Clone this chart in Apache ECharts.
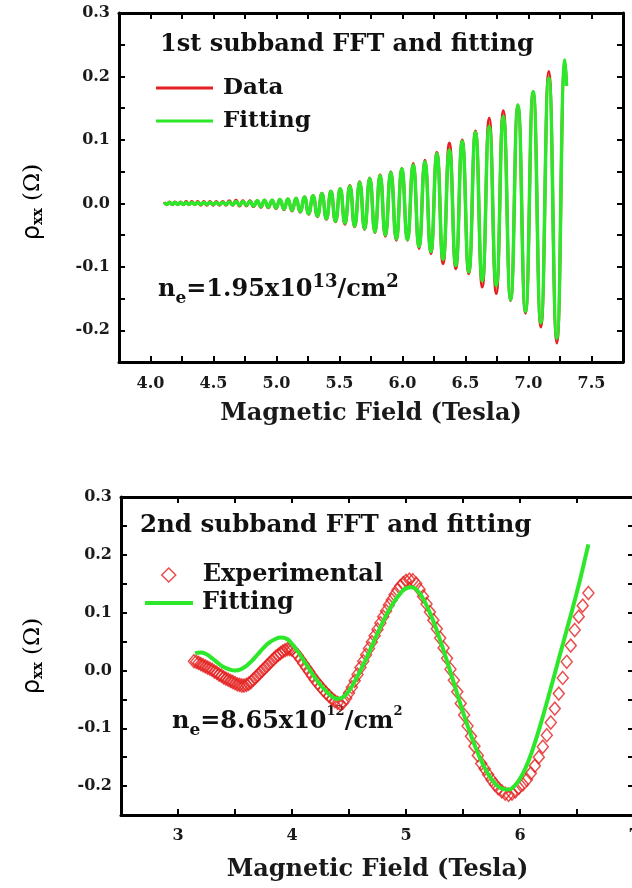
<!DOCTYPE html>
<html>
<head>
<meta charset="utf-8">
<title>rho_xx subband FFT and fitting</title>
<script src="https://cdn.jsdelivr.net/npm/echarts@6/dist/echarts.min.js"></script>
<style>html,body{margin:0;padding:0;background:#fff}#main{width:632px;height:888px}</style>
</head>
<body>
<div id="main"></div>
<script type="text/javascript">
// ---- 1st subband: extrema of the oscillation ----
var topField = [4.109, 4.130, 4.151, 4.172, 4.194, 4.216, 4.238, 4.260, 4.283, 4.305,
  4.328, 4.352, 4.375, 4.399, 4.423, 4.447, 4.472, 4.497, 4.522, 4.547,
  4.573, 4.599, 4.625, 4.652, 4.679, 4.706, 4.733, 4.761, 4.789, 4.818,
  4.847, 4.876, 4.905, 4.935, 4.965, 4.996, 5.027, 5.059, 5.090, 5.123,
  5.155, 5.188, 5.222, 5.255, 5.290, 5.325, 5.360, 5.396, 5.432, 5.468,
  5.506, 5.543, 5.582, 5.620, 5.660, 5.699, 5.740, 5.781, 5.822, 5.864,
  5.907, 5.951, 5.995, 6.039, 6.085, 6.131, 6.178, 6.225, 6.273, 6.322,
  6.372, 6.423, 6.474, 6.526, 6.579, 6.633, 6.688, 6.744, 6.800, 6.858,
  6.916, 6.976, 7.037, 7.098, 7.161, 7.225, 7.290, 7.302];
var topData = [0.002, -0.002, 0.002, -0.002, 0.002, -0.002, 0.002, -0.002, 0.003, -0.002,
  0.003, -0.002, 0.003, -0.003, 0.003, -0.003, 0.003, -0.003, 0.003, -0.003,
  0.003, -0.003, 0.004, -0.003, 0.005, -0.004, 0.004, -0.004, 0.004, -0.005,
  0.004, -0.006, 0.005, -0.007, 0.005, -0.008, 0.006, -0.010, 0.007, -0.012,
  0.008, -0.014, 0.010, -0.017, 0.012, -0.021, 0.016, -0.025, 0.019, -0.029,
  0.023, -0.033, 0.028, -0.037, 0.034, -0.041, 0.040, -0.046, 0.045, -0.052,
  0.050, -0.058, 0.055, -0.058, 0.063, -0.071, 0.068, -0.079, 0.080, -0.095,
  0.095, -0.103, 0.100, -0.111, 0.114, -0.132, 0.134, -0.142, 0.146, -0.153,
  0.155, -0.173, 0.176, -0.195, 0.208, -0.220, 0.224, 0.185];
var topFit = [0.0015, -0.0015, 0.0015, -0.0015, 0.0015, -0.0015, 0.0015, -0.0015, 0.0015, -0.0015,
  0.0015, -0.0015, 0.0015, -0.0015, 0.0015, -0.0015, 0.0015, -0.0015, 0.0015, -0.0015,
  0.0015, -0.0015, 0.002, -0.002, 0.003, -0.003, 0.003, -0.003, 0.003, -0.004,
  0.004, -0.005, 0.005, -0.006, 0.005, -0.007, 0.006, -0.009, 0.007, -0.011,
  0.008, -0.013, 0.010, -0.016, 0.012, -0.020, 0.015, -0.024, 0.019, -0.028,
  0.023, -0.031, 0.027, -0.036, 0.033, -0.040, 0.039, -0.045, 0.044, -0.050,
  0.049, -0.056, 0.054, -0.057, 0.060, -0.068, 0.065, -0.076, 0.078, -0.088,
  0.084, -0.098, 0.098, -0.108, 0.112, -0.122, 0.121, -0.130, 0.137, -0.152,
  0.155, -0.170, 0.176, -0.188, 0.197, -0.212, 0.226, 0.185];

// ---- 2nd subband ----
var expField = [3.14, 3.16, 3.18, 3.20, 3.22, 3.24, 3.26, 3.28, 3.30, 3.32,
  3.34, 3.36, 3.38, 3.40, 3.42, 3.44, 3.46, 3.48, 3.50, 3.52,
  3.54, 3.56, 3.58, 3.60, 3.62, 3.64, 3.66, 3.68, 3.70, 3.72,
  3.74, 3.76, 3.78, 3.80, 3.82, 3.84, 3.86, 3.88, 3.90, 3.92,
  3.94, 3.96, 3.98, 4.00,
  4.025, 4.05, 4.075, 4.10, 4.125, 4.15, 4.175, 4.20, 4.225, 4.25,
  4.275, 4.30, 4.325, 4.35, 4.375, 4.40, 4.425, 4.45, 4.475, 4.50,
  4.525, 4.55, 4.575, 4.60, 4.625, 4.65, 4.675, 4.70, 4.725, 4.75,
  4.775, 4.80, 4.825, 4.85, 4.875, 4.90, 4.925, 4.95, 4.975, 5.00,
  5.03, 5.06, 5.09, 5.12, 5.15, 5.18, 5.21, 5.24, 5.27, 5.30,
  5.33, 5.36, 5.39, 5.42, 5.45, 5.48, 5.51, 5.54, 5.57, 5.60,
  5.63, 5.66, 5.69, 5.72, 5.75, 5.78, 5.81, 5.84, 5.87, 5.90,
  5.93, 5.96, 5.99,
  6.025, 6.06, 6.095, 6.13, 6.165, 6.20, 6.235, 6.27, 6.305, 6.34,
  6.375, 6.41, 6.445, 6.48, 6.515, 6.55, 6.60];
var expRho = [0.016, 0.015, 0.013, 0.011, 0.009, 0.007, 0.005, 0.003, 0.001, -0.002,
  -0.004, -0.007, -0.009, -0.012, -0.014, -0.016, -0.018, -0.020, -0.022, -0.024,
  -0.025, -0.026, -0.026, -0.025, -0.023, -0.020, -0.016, -0.012, -0.008, -0.004,
  0.000, 0.004, 0.008, 0.012, 0.016, 0.020, 0.024, 0.027, 0.030, 0.033,
  0.035, 0.037, 0.037, 0.036,
  0.032, 0.026, 0.019, 0.012, 0.005, -0.002, -0.009, -0.016, -0.022, -0.028,
  -0.034, -0.039, -0.044, -0.049, -0.053, -0.056, -0.058, -0.055, -0.048, -0.039,
  -0.029, -0.018, -0.007, 0.005, 0.016, 0.027, 0.038, 0.049, 0.060, 0.071,
  0.082, 0.093, 0.103, 0.113, 0.122, 0.131, 0.139, 0.146, 0.151, 0.155,
  0.157, 0.156, 0.150, 0.140, 0.128, 0.115, 0.101, 0.087, 0.072, 0.056,
  0.039, 0.021, 0.002, -0.017, -0.037, -0.057, -0.077, -0.096, -0.114, -0.131,
  -0.147, -0.161, -0.170, -0.180, -0.189, -0.197, -0.204, -0.209, -0.213, -0.215,
  -0.213, -0.209, -0.203,
  -0.197, -0.189, -0.178, -0.165, -0.150, -0.132, -0.112, -0.090, -0.066, -0.040,
  -0.013, 0.015, 0.043, 0.070, 0.093, 0.112, 0.134];
var fitField = [3.15, 3.20, 3.25, 3.30, 3.35, 3.40, 3.45, 3.50, 3.55, 3.60,
  3.65, 3.70, 3.75, 3.80, 3.85, 3.90, 3.95, 4.00, 4.05, 4.10,
  4.15, 4.20, 4.25, 4.30, 4.35, 4.40, 4.45, 4.50, 4.55, 4.60,
  4.65, 4.70, 4.75, 4.80, 4.85, 4.90, 4.95, 5.00, 5.05, 5.10,
  5.15, 5.20, 5.25, 5.30, 5.35, 5.40, 5.45, 5.50, 5.55, 5.60,
  5.65, 5.70, 5.75, 5.80, 5.85, 5.90, 5.95, 6.00, 6.05, 6.10,
  6.15, 6.20, 6.25, 6.30, 6.35, 6.40, 6.45, 6.50, 6.55, 6.60];
var fitRho = [0.030, 0.031, 0.028, 0.021, 0.013, 0.006, 0.002, 0.000, 0.002, 0.008,
  0.017, 0.028, 0.039, 0.048, 0.054, 0.057, 0.055, 0.046, 0.033, 0.018,
  0.003, -0.012, -0.025, -0.036, -0.045, -0.049, -0.046, -0.035, -0.019, 0.000,
  0.020, 0.042, 0.064, 0.085, 0.104, 0.120, 0.133, 0.142, 0.144, 0.138,
  0.124, 0.104, 0.080, 0.052, 0.022, -0.009, -0.041, -0.072, -0.101, -0.128,
  -0.152, -0.172, -0.188, -0.199, -0.205, -0.206, -0.200, -0.187, -0.168, -0.143,
  -0.113, -0.080, -0.045, -0.009, 0.027, 0.063, 0.099, 0.136, 0.176, 0.218];

function pairs(xs, ys) {
  return xs.map(function (x, i) { return [x, ys[i]]; });
}

var SERIF = 'DejaVu Serif';
var RED = '#e3201f';
var GREEN = '#2de82a';
var labelStyle = { fontFamily: SERIF, fontWeight: 'bold', fontSize: 16, color: '#1a1a1a' };
var tickStyle = { show: true, inside: true, length: 6, lineStyle: { color: '#000', width: 2 } };
var lineStyle = { show: true, onZero: false, lineStyle: { color: '#000', width: 3 } };

function yLabel(v) {
  var r = Math.round(v * 100);
  return r % 10 === 0 ? (r / 100).toFixed(1) : '';
}

function xAxisPair(grid, min, max, step, fmt, margin, gap) {
  var main = {
    type: 'value', gridIndex: grid, min: min, max: max, interval: step,
    name: 'Magnetic Field (Tesla)', nameLocation: 'middle', nameGap: gap,
    nameTextStyle: { fontFamily: SERIF, fontWeight: 'bold', fontSize: 24, color: '#1a1a1a' },
    axisLine: lineStyle, axisTick: tickStyle, splitLine: { show: false },
    axisLabel: Object.assign({ margin: margin, formatter: fmt }, labelStyle)
  };
  var mirror = {
    type: 'value', gridIndex: grid, min: min, max: max, interval: step, position: 'top',
    axisLine: lineStyle, axisTick: tickStyle, splitLine: { show: false },
    axisLabel: { show: false }
  };
  return [main, mirror];
}

function yAxisPair(grid) {
  var main = {
    type: 'value', gridIndex: grid, min: -0.25, max: 0.3, interval: 0.05,
    axisLine: lineStyle, axisTick: tickStyle, splitLine: { show: false },
    axisLabel: Object.assign({ margin: 9, formatter: yLabel }, labelStyle)
  };
  var mirror = {
    type: 'value', gridIndex: grid, min: -0.25, max: 0.3, interval: 0.05, position: 'right',
    axisLine: lineStyle, axisTick: tickStyle, splitLine: { show: false },
    axisLabel: { show: false }
  };
  return [main, mirror];
}

var rhoRich = {
  r: { fontFamily: 'DejaVu Sans', fontSize: 24, color: '#1a1a1a' },
  s: { fontFamily: SERIF, fontWeight: 'bold', fontSize: 14, color: '#1a1a1a', verticalAlign: 'bottom', lineHeight: 16 },
  o: { fontFamily: SERIF, fontSize: 23, color: '#1a1a1a' }
};

function neText(x, y, base, pw, supSize) {
  return {
    type: 'text', x: x, y: y,
    style: {
      text: '{n|n}{b|e}{n|=' + base + 'x10}{p|' + pw + '}{n|/cm}{p|2}',
      verticalAlign: 'middle',
      rich: {
        n: { fontFamily: SERIF, fontWeight: 'bold', fontSize: 24, lineHeight: 34, fill: '#111' },
        b: { fontFamily: SERIF, fontWeight: 'bold', fontSize: 17, lineHeight: 20, verticalAlign: 'bottom', fill: '#111' },
        p: { fontFamily: SERIF, fontWeight: 'bold', fontSize: supSize, lineHeight: supSize + 2, verticalAlign: 'top', fill: '#111' }
      }
    }
  };
}

var legendText = { fontFamily: SERIF, fontWeight: 'bold', fontSize: 24, color: '#111', lineHeight: 26 };

var chart = echarts.init(document.getElementById('main'));

var option = {
  animation: false,
  backgroundColor: '#fff',
  grid: [
    { left: 119, top: 13, right: 9, height: 349, outerBoundsMode: 'none' },
    { left: 121, top: 497, right: -2, height: 318, outerBoundsMode: 'none' }
  ],
  xAxis: xAxisPair(0, 3.75, 7.75, 0.25, function (v) {
    var r = Math.round(v * 100);
    return r % 50 === 0 ? (r / 100).toFixed(1) : '';
  }, 14, 40).concat(xAxisPair(1, 2.5, 7.0, 0.5, function (v) {
    var r = Math.round(v * 10);
    return r % 10 === 0 ? String(r / 10) : '';
  }, 13, 43)),
  yAxis: yAxisPair(0).concat(yAxisPair(1)),
  legend: [
    {
      orient: 'vertical', left: 151, top: 70, itemGap: 7,
      itemWidth: 57, itemHeight: 3, icon: 'rect',
      textStyle: Object.assign({ padding: [0, 0, 0, 5] }, legendText, { fontSize: 23 }),
      data: ['Data', 'Fitting']
    },
    {
      orient: 'vertical', left: 156, top: 557,
      itemWidth: 14, itemHeight: 14,
      textStyle: Object.assign({ padding: [0, 0, 0, 22] }, legendText),
      data: [
        { name: 'Experimental', icon: 'diamond', itemStyle: { color: 'rgba(0,0,0,0)', borderColor: RED, borderWidth: 1.5 } }
      ]
    },
    {
      orient: 'vertical', left: 140, top: 585,
      itemWidth: 48, itemHeight: 4, icon: 'rect',
      textStyle: Object.assign({ padding: [0, 0, 0, 4] }, legendText),
      data: ['Fitting ']
    }
  ],
  graphic: [
    { type: 'text', x: 160, y: 45, style: { text: '1st subband FFT and fitting', fontFamily: SERIF, fontWeight: 'bold', fontSize: 24, fill: '#111', verticalAlign: 'middle' } },
    { type: 'text', x: 140, y: 526, style: { text: '2nd subband FFT and fitting', fontFamily: SERIF, fontWeight: 'bold', fontSize: 24.5, fill: '#111', verticalAlign: 'middle' } },
    neText(158, 290, '1.95', '13', 18),
    neText(172, 722, '8.65', '12', 13),
    { type: 'text', x: 33, y: 202, rotation: Math.PI / 2, style: { text: '{r|ρ}{s|xx}{o| (Ω)}', rich: rhoRich, align: 'center', verticalAlign: 'middle' } },
    { type: 'text', x: 33, y: 656, rotation: Math.PI / 2, style: { text: '{r|ρ}{s|xx}{o| (Ω)}', rich: rhoRich, align: 'center', verticalAlign: 'middle' } }
  ],
  series: [
    {
      name: 'Data', type: 'line', xAxisIndex: 0, yAxisIndex: 0,
      data: pairs(topField, topData), smooth: 0.5, symbol: 'none',
      color: RED, lineStyle: { color: RED, width: 3 }, z: 2
    },
    {
      name: 'Fitting', type: 'line', xAxisIndex: 0, yAxisIndex: 0,
      data: pairs(topField, topFit), smooth: 0.5, symbol: 'none',
      color: GREEN, lineStyle: { color: GREEN, width: 3.5 }, z: 3
    },
    {
      name: 'Experimental', type: 'scatter', xAxisIndex: 2, yAxisIndex: 2,
      data: pairs(expField, expRho), symbol: 'diamond', symbolSize: [11, 13],
      itemStyle: { color: 'rgba(0,0,0,0)', borderColor: RED, borderWidth: 1.5 }, z: 2
    },
    {
      name: 'Fitting ', type: 'line', xAxisIndex: 2, yAxisIndex: 2,
      data: pairs(fitField, fitRho), smooth: true, symbol: 'none',
      color: GREEN, lineStyle: { color: GREEN, width: 4 }, z: 3
    }
  ]
};
chart.setOption(option);
</script>
</body>
</html>
